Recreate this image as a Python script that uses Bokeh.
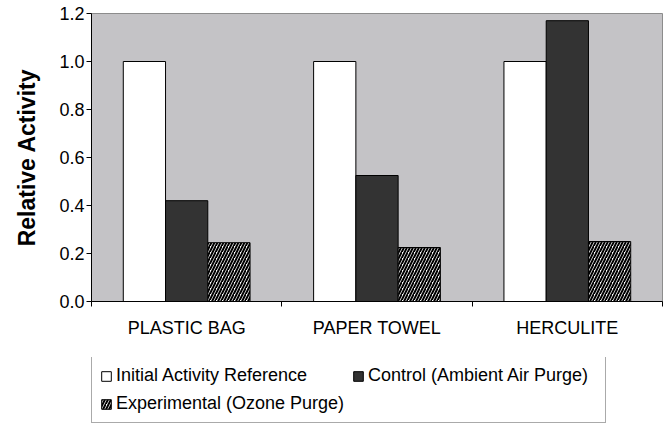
import numpy as np
from bokeh.plotting import figure
from bokeh.layouts import column
from bokeh.models import (ColumnDataSource, FixedTicker, NumeralTickFormatter,
                          Legend, LegendItem, Range1d)
from bokeh.transform import dodge
from bokeh.embed import file_html
from bokeh.resources import INLINE

# ---- data ----
categories = ["PLASTIC BAG", "PAPER TOWEL", "HERCULITE"]
initial_activity = [1.0, 1.0, 1.0]
control_ambient = [0.42, 0.525, 1.17]
experimental_ozone = [0.245, 0.225, 0.25]
y_ticks = [0.0, 0.2, 0.4, 0.6, 0.8, 1.0, 1.2]
series_labels = ["Initial Activity Reference", "Control (Ambient Air Purge)",
                 "Experimental (Ozone Purge)"]

FONT = "Liberation Sans"
STYLES = [dict(fill_color="white", line_color="black", line_width=1),
          dict(fill_color="#333333", line_color="black", line_width=1),
          dict(fill_color="white", line_color="black", line_width=1,
               hatch_pattern="/", hatch_color="black", hatch_scale=6, hatch_weight=2)]

xpos = list(np.arange(len(categories)) + 0.5)
src = ColumnDataSource(dict(x=xpos, init=initial_activity,
                            ctrl=control_ambient, exp=experimental_ozone))

p = figure(width=667, height=357, output_backend="svg", toolbar_location=None,
           x_range=Range1d(0, len(categories)), y_range=Range1d(0, 1.2),
           min_border_left=91, min_border_right=5, min_border_top=13,
           min_border_bottom=56)
p.background_fill_color = "#C4C3C6"
p.border_fill_color = "white"
p.outline_line_color = "#8C8C8C"
p.outline_line_width = 1
p.grid.visible = False

bw = 0.222
p.vbar(x=dodge("x", -bw, range=p.x_range), top="init", width=bw, source=src, **STYLES[0])
p.vbar(x="x", top="ctrl", width=bw, source=src, **STYLES[1])
p.vbar(x=dodge("x", bw, range=p.x_range), top="exp", width=bw, source=src, **STYLES[2])

# y axis
ya = p.yaxis[0]
ya.ticker = FixedTicker(ticks=y_ticks)
ya.formatter = NumeralTickFormatter(format="0.0")
ya.axis_line_color = "black"
ya.major_tick_line_color = "black"
ya.major_tick_out = 5
ya.major_tick_in = 0
ya.minor_tick_line_color = None
ya.major_label_standoff = 2
ya.major_label_text_font = FONT
ya.major_label_text_font_size = "18px"
ya.major_label_text_color = "black"
ya.axis_label = "Relative Activity"
ya.axis_label_text_font = FONT
ya.axis_label_text_font_style = "bold"
ya.axis_label_text_font_size = "23px"
ya.axis_label_text_color = "black"
ya.axis_label_standoff = 16

# x axis
xa = p.xaxis[0]
xa.ticker = FixedTicker(ticks=xpos, minor_ticks=list(range(len(categories) + 1)))
xa.major_label_overrides = {x: c for x, c in zip(xpos, categories)}
xa.axis_line_color = "black"
xa.major_tick_line_color = None
xa.major_tick_out = 0
xa.major_tick_in = 0
xa.minor_tick_line_color = "black"
xa.minor_tick_out = 5
xa.minor_tick_in = 0
xa.major_label_standoff = 11
xa.major_label_text_font = FONT
xa.major_label_text_font_size = "18px"
xa.major_label_text_color = "black"

# ---- legend strip below the chart ----
# the legend figure reuses the same data, but its x range is beyond the
# bars, so only the legend entries are visible
lf = figure(width=667, height=66, output_backend="svg", toolbar_location=None,
            x_range=Range1d(10, 11), y_range=Range1d(0, 1.2),
            x_axis_location=None, y_axis_location=None,
            min_border_left=91, min_border_right=5, min_border_top=0,
            min_border_bottom=0)
lf.grid.visible = False
lf.outline_line_color = None
lf.background_fill_color = "white"
lf.border_fill_color = "white"
lr1 = lf.vbar(x="x", top="init", width=bw, source=src, **STYLES[0])
lr2 = lf.vbar(x="x", top="ctrl", width=bw, source=src, **STYLES[1])
lr3 = lf.vbar(x="x", top="exp", width=bw, source=src, **STYLES[2])

legend = Legend(items=[LegendItem(label=lab, renderers=[r])
                       for lab, r in zip(series_labels, [lr1, lr2, lr3])],
                orientation="horizontal", ncols=2, location=(0, 0))
legend.padding = 8
legend.spacing = 7
legend.glyph_width = 12
legend.glyph_height = 12
legend.label_standoff = 4
legend.label_width = 229
legend.label_text_font = FONT
legend.label_text_font_size = "18px"
legend.label_text_color = "black"
legend.border_line_color = "#555555"
legend.border_line_width = 1
legend.background_fill_color = "white"
legend.background_fill_alpha = 1
legend.margin = 0
lf.add_layout(legend, "center")

layout = column(p, lf, spacing=0)
open("out.html", "w").write(file_html(layout, INLINE))
